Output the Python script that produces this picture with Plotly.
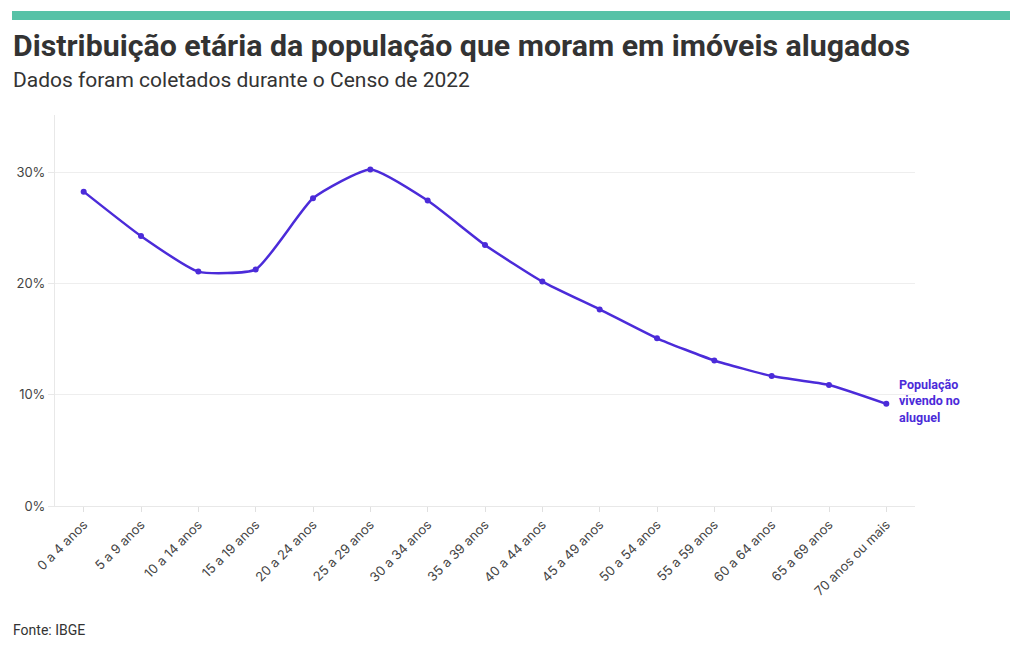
import plotly.graph_objects as go

categories = ["0 a 4 anos", "5 a 9 anos", "10 a 14 anos", "15 a 19 anos", "20 a 24 anos",
              "25 a 29 anos", "30 a 34 anos", "35 a 39 anos", "40 a 44 anos", "45 a 49 anos",
              "50 a 54 anos", "55 a 59 anos", "60 a 64 anos", "65 a 69 anos", "70 anos ou mais"]
values = [28.3, 24.3, 21.1, 21.3, 27.7, 30.3, 27.5, 23.5, 20.2, 17.7, 15.1, 13.1, 11.7, 10.9, 9.2]
series_label_lines = ["População", "vivendo no", "aluguel"]
y_ticks = [0, 10, 20, 30]
y_tick_text = ["0%", "10%", "20%", "30%"]

line_color = "#4b2bd9"
tick_font = dict(family="Inter, Lato, sans-serif", size=13, color="#444444")

L, R, T, B = 55, 105, 115, 144
PW, PH = 1020 - L - R, 650 - T - B


def px_x(x):
    return (x - L) / PW


def px_y(y):
    return (650 - B - y) / PH


fig = go.Figure()
fig.add_trace(go.Scatter(
    x=categories, y=values, mode="lines+markers", name=" ".join(series_label_lines),
    line=dict(color=line_color, width=2.5, shape="spline", smoothing=0.5),
    marker=dict(color=line_color, size=6),
    hovertemplate="%{x}: %{y:.1f}%<extra></extra>",
))

annotations = [
    dict(x=categories[-1], y=values[-1], xref="x", yref="y",
         text="<b>" + "<br>".join(series_label_lines) + "</b>", showarrow=False,
         xanchor="left", yanchor="middle", xshift=11, yshift=3,
         align="left", font=dict(family="Roboto, sans-serif", size=12.5, color=line_color)),
    dict(text="<b>Distribuição etária da população que moram em imóveis alugados</b>",
         xref="paper", yref="paper", x=px_x(11), y=px_y(46),
         xanchor="left", yanchor="middle", showarrow=False,
         font=dict(family="Roboto, sans-serif", size=30.3, color="#333333")),
    dict(text="Dados foram coletados durante o Censo de 2022",
         xref="paper", yref="paper", x=px_x(11), y=px_y(80),
         xanchor="left", yanchor="middle", showarrow=False,
         font=dict(family="Roboto, sans-serif", size=21, color="#333333")),
    dict(text="Fonte: IBGE",
         xref="paper", yref="paper", x=px_x(11), y=px_y(630),
         xanchor="left", yanchor="middle", showarrow=False,
         font=dict(family="Roboto, sans-serif", size=14, color="#333333")),
]

fig.update_layout(
    width=1020, height=650,
    margin=dict(l=L, r=R, t=T, b=B),
    paper_bgcolor="white", plot_bgcolor="white",
    showlegend=False,
    shapes=[dict(type="rect", xref="paper", yref="paper",
                 x0=px_x(12), x1=px_x(1010), y0=px_y(20), y1=px_y(11),
                 fillcolor="#57c2a7", line=dict(width=0))],
    annotations=annotations,
)

fig.update_xaxes(
    range=[-0.5, len(categories) - 0.5], automargin=False,
    tickangle=-45, tickfont=tick_font,
    showgrid=False, showline=True, linecolor="#e8e8e8", linewidth=1,
    ticks="outside", ticklen=5, tickcolor="#e0e0e0",
)
fig.update_yaxes(
    range=[0, 35.2], automargin=False,
    tickmode="array", tickvals=y_ticks, ticktext=y_tick_text, tickfont=tick_font,
    showgrid=True, gridcolor="#eeeeee", zeroline=True, zerolinecolor="#e8e8e8",
    showline=True, linecolor="#e8e8e8", linewidth=1,
    ticks="outside", ticklen=6, tickcolor="#e8e8e8",
)

fig.write_html("out.html", config={"displayModeBar": False},
               post_script="document.body.style.margin='0px';")
